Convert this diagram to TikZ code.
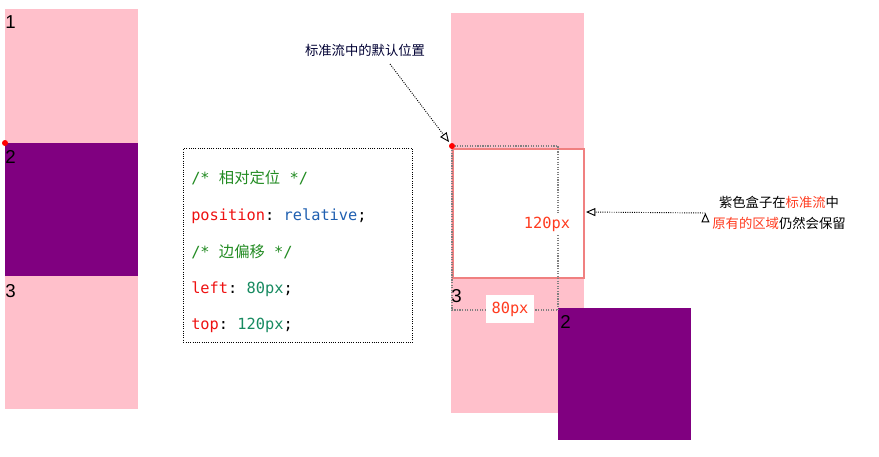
\documentclass[tikz,border=0pt]{standalone}
\usepackage{fontspec}
\setmainfont{Liberation Sans}
\setmonofont{DejaVu Sans Mono}
\newfontfamily\cjk{Noto Sans CJK SC}
\usetikzlibrary{arrows.meta}
\definecolor{pinkbox}{HTML}{FFC0CB}
\definecolor{purplebox}{HTML}{800080}
\definecolor{salmonb}{HTML}{F08080}
\definecolor{cmt}{HTML}{228B22}
\definecolor{kw}{HTML}{EE1111}
\definecolor{val}{HTML}{1F5FB0}
\definecolor{num}{HTML}{178A60}
\definecolor{lbl}{HTML}{FF3B1F}
\begin{document}
\begin{tikzpicture}[x=0.75pt,y=-0.75pt,
  num/.style={font=\fontsize{14}{14}\selectfont,anchor=west,inner sep=0},
  code/.style={font=\ttfamily\fontsize{11.5}{12}\selectfont,anchor=west,inner sep=0},
  note/.style={font=\cjk\fontsize{10}{12}\selectfont,inner sep=1pt},
  guide/.style={draw=gray,densely dotted,line width=0.9pt},
  ann/.style={draw=black,densely dotted,line width=0.7pt,-{Triangle[open,length=7pt,width=6pt]}}]
\useasboundingbox (0,0) rectangle (879,457);
% left column
\fill[pinkbox] (5,9) rectangle (138,409);
\fill[purplebox] (5,143) rectangle (138,276);
\node[num] (l1) at (5,22) {1};
\node[num] (l2) at (5,157) {2};
\node[num] (l3) at (5,291) {3};
\fill[red] (5,143) circle (3);
% code box
\node[draw,densely dotted,line width=0.7pt,minimum width=229*0.75pt,minimum height=194*0.75pt,anchor=north west] (codebox) at (183,148) {};
\node[code,text=cmt] (c1) at (191,178) {/* {\cjk 相对定位} */};
\node[code] (c2) at (191,216) {\textcolor{kw}{position}: \textcolor{val}{relative};};
\node[code,text=cmt] (c3) at (191,252) {/* {\cjk 边偏移} */};
\node[code] (c4) at (191,289) {\textcolor{kw}{left}: \textcolor{num}{80px};};
\node[code] (c5) at (191,325) {\textcolor{kw}{top}: \textcolor{num}{120px};};
% right column
\fill[pinkbox] (451,13) rectangle (584,413);
\node[draw=salmonb,fill=white,line width=1.2pt,minimum width=131*0.75pt,minimum height=129*0.75pt,anchor=north west,inner sep=0] (ghost) at (452,148) {};
\fill[purplebox] (558,308) rectangle (691,440);
\node[num] (r2) at (560,322) {2};
\node[num] (r3) at (451,296) {3};
\coordinate (o) at (452,146);
\coordinate (oa) at (558,146);
\coordinate (ob) at (558,310);
\coordinate (oc) at (452,310);
\draw[guide] (o) -- (oa) -- (ob) -- (oc) -- cycle;
\node[fill=white,text=lbl,font=\ttfamily\fontsize{11.5}{12}\selectfont,inner xsep=4pt,inner ysep=5pt] (p80) at (510,309) {80px};
\node[fill=white,text=lbl,font=\ttfamily\fontsize{11.5}{12}\selectfont,inner sep=2pt] (p120) at (547,224) {120px};
\fill[red] (o) circle (3);
% annotations
\node[note,text=black!80!blue] (n1) at (365,50) {标准流中的默认位置};
\coordinate (n1a) at (390,64);
\coordinate (n1b) at (449,142);
\draw[ann] (n1a) -- (n1b);
\node[note,align=center] (n2) at (779,213) {紫色盒子在\textcolor{lbl}{标准流}中\\[4pt]\textcolor{lbl}{原有的区域}仍然会保留};
\coordinate (n2b) at (586,212);
\draw[ann] (n2.west) ++(-4pt,0) coordinate (n2a);
\draw[ann] (n2a) -- (n2b);
\end{tikzpicture}
\end{document}
